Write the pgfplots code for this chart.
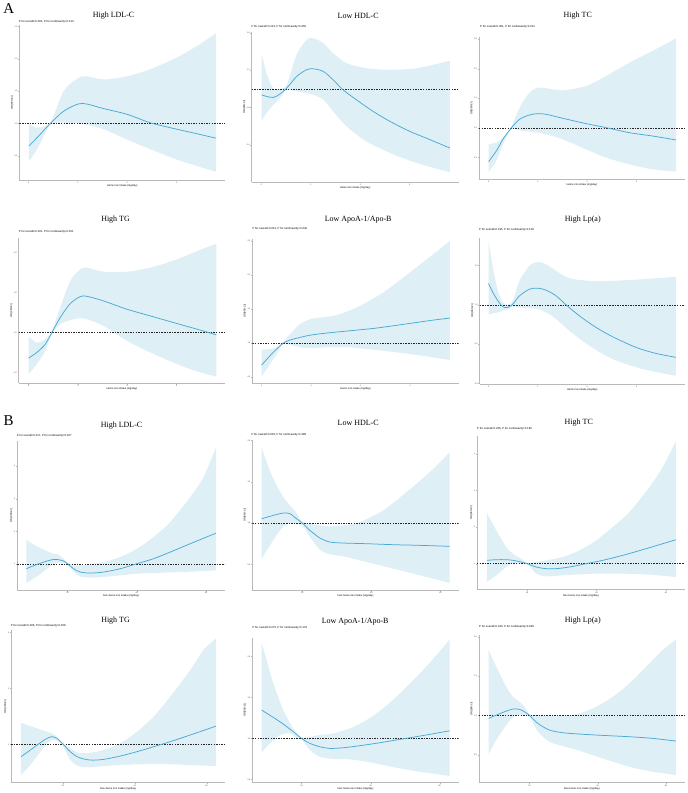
\documentclass[border=0pt]{standalone}
\usepackage{fontspec}
\setmainfont{Liberation Serif}
\setsansfont{Liberation Sans}
\usepackage{pgfplots}
\pgfplotsset{compat=1.18}
\usepgfplotslibrary{fillbetween}
\definecolor{bandc}{RGB}{223,239,246}
\definecolor{linec}{RGB}{72,170,212}
\definecolor{axgray}{RGB}{185,185,185}
\newcommand\ptfont{\sffamily\fontsize{2.8}{3.2}\selectfont}
\newcommand\ttlfont{\rmfamily\fontsize{8}{9}\selectfont}
\pgfplotsset{
 panel/.style={
  scale only axis, anchor=south west,
  axis x line*=bottom, axis y line*=left,
  axis line style={draw=axgray, line width=0.5pt},
  every tick/.style={draw=axgray, line width=0.3pt},
  tick align=outside, major tick length=1.2pt,
  tick label style={font=\sffamily\fontsize{2}{2.4}\selectfont, text=black!75, inner sep=0.6pt},
  /pgf/number format/assume math mode=true,
  xlabel style={font=\sffamily\fontsize{2.6}{3}\selectfont, inner sep=0.5pt},
  ylabel style={font=\sffamily\fontsize{2.6}{3}\selectfont, inner sep=0.5pt},
  ylabel={OR(95\%CI)},
 },
 panA/.style={panel, xtick={0,1,2,3}, xlabel={Heme iron intake (mg/day)}},
 panB/.style={panel, xtick={20,40,60}, xlabel={Non-heme iron intake (mg/day)}},
 cband/.style={draw=none, smooth},
 cline/.style={linec, line width=0.75pt, smooth},
 refline/.style={black!85, line width=0.45pt, dash pattern=on 1.5pt off 1.1pt},
}
\begin{document}
\begin{tikzpicture}
\node[font=\rmfamily\fontsize{15}{15}\selectfont] at (5pt,786pt) {A};
\node[font=\rmfamily\fontsize{15}{15}\selectfont] at (5pt,373pt) {B};

% ---------------- A1 High LDL-C
\begin{axis}[panA, at={(15.7pt,614pt)}, width=206pt, height=155pt,
 xmin=-0.19, xmax=3.99, ymin=0.124, ymax=2.52,
 ytick={0.5,1,1.5,2,2.5}, yticklabels={0.5,1.0,1.5,2.0,2.5}]
\addplot[cband, name path=UA1] coordinates {(0,1.0) (0.17,0.93) (0.44,1.02) (0.71,1.50) (1.0,1.70) (1.18,1.73) (1.52,1.68) (2.0,1.73) (2.47,1.84) (3.01,2.02) (3.42,2.20) (3.81,2.40)};
\addplot[cband, name path=LA1] coordinates {(0,0.41) (0.17,0.60) (0.44,0.98) (0.71,1.01) (1.0,1.0) (1.18,0.98) (1.52,0.91) (2.0,0.75) (2.47,0.60) (3.01,0.44) (3.42,0.34) (3.81,0.25)};
\addplot[bandc, draw=none] fill between[of=UA1 and LA1];
\addplot[refline] coordinates {(-0.19,1) (3.99,1)};
\addplot[cline] coordinates {(0,0.65) (0.17,0.78) (0.44,1.0) (0.71,1.19) (1.0,1.30) (1.18,1.30) (1.52,1.23) (2.0,1.14) (2.47,1.01) (3.01,0.91) (3.42,0.84) (3.81,0.77)};
\end{axis}

% ---------------- A2 Low HDL-C
\begin{axis}[panA, at={(248.3pt,612pt)}, width=207.4pt, height=150.3pt,
 xmin=-0.2, xmax=3.99, ymin=0, ymax=1.61,
 ytick={0.4,0.8,1.2,1.6}, yticklabels={0.4,0.8,1.2,1.6}]
\addplot[cband, name path=UA2] coordinates {(0,1.382) (0.10,1.168) (0.24,1.0) (0.37,1.0) (0.51,1.043) (0.71,1.364) (0.91,1.525) (1.05,1.543) (1.25,1.489) (1.45,1.382) (1.72,1.275) (2.12,1.221) (2.60,1.204) (3.14,1.221) (3.81,1.30)};
\addplot[cband, name path=LA2] coordinates {(0,0.65) (0.10,0.739) (0.24,0.829) (0.37,0.90) (0.51,0.989) (0.71,0.971) (0.91,0.954) (1.05,0.936) (1.25,0.882) (1.45,0.757) (1.72,0.596) (2.12,0.436) (2.60,0.311) (3.14,0.204) (3.81,0.104)};
\addplot[bandc, draw=none] fill between[of=UA2 and LA2];
\addplot[refline] coordinates {(-0.2,1) (3.99,1)};
\addplot[cline] coordinates {(0,0.936) (0.10,0.918) (0.24,0.907) (0.37,0.943) (0.51,1.007) (0.71,1.132) (0.91,1.204) (1.05,1.214) (1.25,1.186) (1.45,1.096) (1.65,0.989) (1.92,0.882) (2.26,0.757) (2.60,0.65) (3.0,0.543) (3.41,0.454) (3.81,0.364)};
\end{axis}

% ---------------- A3 High TC
\begin{axis}[panA, at={(476pt,614.7pt)}, width=206.3pt, height=142.3pt,
 xmin=-0.196, xmax=3.98, ymin=0.135, ymax=2.53,
 ytick={0.5,1,1.5,2,2.5}, yticklabels={0.5,1.0,1.5,2.0,2.5}]
\addplot[cband, name path=UA3] coordinates {(0,0.725) (0.155,0.753) (0.29,0.837) (0.459,1.02) (0.627,1.343) (0.829,1.596) (1.0,1.680) (1.167,1.669) (1.504,1.635) (1.976,1.708) (2.38,1.876) (2.85,2.10) (3.32,2.298) (3.80,2.511)};
\addplot[cband, name path=LA3] coordinates {(0,0.264) (0.155,0.444) (0.29,0.725) (0.459,0.983) (0.627,0.961) (0.829,0.938) (1.0,0.921) (1.167,0.893) (1.504,0.809) (1.976,0.640) (2.38,0.500) (2.85,0.388) (3.32,0.303) (3.80,0.264)};
\addplot[bandc, draw=none] fill between[of=UA3 and LA3];
\addplot[refline] coordinates {(-0.196,1) (3.98,1)};
\addplot[cline] coordinates {(0,0.433) (0.155,0.612) (0.29,0.809) (0.459,1.0) (0.627,1.146) (0.829,1.219) (1.0,1.242) (1.167,1.230) (1.504,1.163) (1.976,1.073) (2.38,1.006) (2.85,0.921) (3.32,0.865) (3.80,0.798)};
\end{axis}

% ---------------- A4 High TG
\begin{axis}[panA, at={(15pt,410.3pt)}, width=206.7pt, height=146pt,
 xmin=-0.2, xmax=3.99, ymin=0.3625, ymax=2.19,
 ytick={0.5,1,1.5,2}, yticklabels={0.5,1.0,1.5,2.0}]
\addplot[cband, name path=UA4] coordinates {(0,0.946) (0.169,0.875) (0.339,0.917) (0.474,1.021) (0.643,1.3125) (0.846,1.646) (1.049,1.792) (1.185,1.8125) (1.523,1.7625) (1.997,1.7625) (2.471,1.8125) (3.013,1.917) (3.419,2.021) (3.812,2.1125)};
\addplot[cband, name path=LA4] coordinates {(0,0.479) (0.169,0.604) (0.339,0.771) (0.474,0.9875) (0.643,1.104) (0.846,1.154) (1.049,1.179) (1.185,1.167) (1.523,1.083) (1.997,0.896) (2.471,0.75) (3.013,0.604) (3.419,0.5125) (3.812,0.446)};
\addplot[bandc, draw=none] fill between[of=UA4 and LA4];
\addplot[refline] coordinates {(-0.2,1) (3.99,1)};
\addplot[cline] coordinates {(0,0.679) (0.169,0.75) (0.339,0.854) (0.474,1.0) (0.643,1.1875) (0.846,1.3625) (1.049,1.45) (1.185,1.454) (1.523,1.396) (1.997,1.292) (2.471,1.208) (3.013,1.1125) (3.419,1.042) (3.812,0.971)};
\end{axis}

% ---------------- A5 Low ApoA-1/Apo-B
\begin{axis}[panA, at={(249pt,410.7pt)}, width=206.7pt, height=144pt,
 xmin=-0.19, xmax=3.99, ymin=0.412, ymax=2.53,
 ytick={0.5,1,1.5,2,2.5}, yticklabels={0.5,1.0,1.5,2.0,2.5}]
\addplot[cband, name path=UA5] coordinates {(0,0.902) (0.169,0.912) (0.303,0.936) (0.438,1.01) (0.573,1.132) (0.775,1.279) (0.998,1.353) (1.315,1.387) (1.585,1.426) (1.99,1.549) (2.46,1.745) (3.0,2.039) (3.473,2.309) (3.81,2.505)};
\addplot[cband, name path=LA5] coordinates {(0,0.51) (0.169,0.691) (0.303,0.838) (0.438,0.985) (0.573,0.975) (0.775,0.936) (0.998,0.926) (1.315,0.936) (1.787,0.936) (2.326,0.897) (3.0,0.838) (3.473,0.789) (3.81,0.75)};
\addplot[bandc, draw=none] fill between[of=UA5 and LA5];
\addplot[refline] coordinates {(-0.19,1) (3.99,1)};
\addplot[cline] coordinates {(0,0.676) (0.169,0.814) (0.303,0.912) (0.438,1.0) (0.573,1.044) (0.775,1.083) (0.998,1.118) (1.315,1.147) (1.787,1.181) (2.326,1.221) (3.0,1.289) (3.473,1.338) (3.81,1.368)};
\end{axis}

% ---------------- A6 High Lp(a)
\begin{axis}[panA, at={(476.7pt,409.7pt)}, width=205.6pt, height=146.6pt,
 xmin=-0.18, xmax=3.98, ymin=-0.008, ymax=1.856,
 ytick={0,0.5,1,1.5}, yticklabels={0.0,0.5,1.0,1.5}]
\addplot[cband, name path=UA6] coordinates {(0,1.822) (0.088,1.475) (0.189,1.178) (0.29,1.03) (0.391,1.0) (0.492,1.051) (0.627,1.305) (0.829,1.496) (0.998,1.547) (1.167,1.517) (1.369,1.432) (1.639,1.339) (2.043,1.305) (2.515,1.305) (3.122,1.326) (3.796,1.356)};
\addplot[cband, name path=LA6] coordinates {(0,0.881) (0.189,0.903) (0.29,0.924) (0.391,0.94) (0.492,0.98) (0.627,0.966) (0.829,0.958) (0.998,0.945) (1.167,0.903) (1.369,0.818) (1.639,0.669) (2.043,0.479) (2.515,0.309) (3.122,0.182) (3.796,0.097)};
\addplot[bandc, draw=none] fill between[of=UA6 and LA6];
\addplot[refline] coordinates {(-0.18,1) (3.98,1)};
\addplot[cline] coordinates {(0,1.271) (0.088,1.157) (0.189,1.051) (0.29,0.975) (0.391,0.966) (0.492,1.008) (0.627,1.114) (0.829,1.199) (0.998,1.212) (1.167,1.186) (1.369,1.114) (1.571,1.0) (1.841,0.860) (2.178,0.712) (2.515,0.593) (2.987,0.458) (3.392,0.381) (3.796,0.331)};
\end{axis}

% ---------------- B1 High LDL-C
\begin{axis}[panB, at={(13.3pt,203pt)}, width=208.4pt, height=150pt,
 xmin=5.38, xmax=65.5, ymin=0.194, ymax=4.79,
 ytick={1,2,3,4}, yticklabels={1,2,3,4}]
\addplot[cband, name path=UB1] coordinates {(8.08,1.745) (11.15,1.541) (14.04,1.398) (15.96,1.316) (17.4,1.286) (18.85,1.163) (20,1.031) (21.73,0.959) (23.65,0.959) (26.54,0.99) (30.38,1.061) (35.19,1.214) (40,1.469) (44.81,1.827) (49.62,2.286) (55.38,3.051) (59.23,3.663) (62.88,4.582)};
\addplot[cband, name path=LB1] coordinates {(8.08,0.418) (11.15,0.622) (14.04,0.857) (15.96,1.01) (17.4,1.05) (18.85,1.03) (20,0.99) (21.73,0.755) (23.65,0.622) (26.54,0.582) (30.38,0.602) (35.19,0.653) (40,0.704) (44.81,0.724) (49.62,0.745) (55.38,0.765) (62.88,0.806)};
\addplot[bandc, draw=none] fill between[of=UB1 and LB1];
\addplot[refline] coordinates {(5.38,1) (65.5,1)};
\addplot[cline] coordinates {(8.08,0.857) (11.15,0.99) (14.04,1.092) (15.96,1.143) (17.4,1.133) (18.85,1.092) (20,1.01) (21.73,0.857) (23.65,0.755) (26.54,0.724) (30.38,0.755) (35.19,0.857) (40,1.01) (44.81,1.163) (49.62,1.367) (55.38,1.622) (62.88,1.949)};
\end{axis}

% ---------------- B2 Low HDL-C
\begin{axis}[panB, at={(249pt,203pt)}, width=206.7pt, height=150.7pt,
 xmin=5.54, xmax=65.3, ymin=0.185, ymax=2.008,
 ytick={0.5,1,1.5,2}, yticklabels={0.5,1.0,1.5,2.0}]
\addplot[cband, name path=UB2] coordinates {(8.24,1.919) (9.69,1.738) (11.61,1.536) (14.51,1.315) (16.43,1.214) (18.36,1.121) (20,1.012) (22.22,0.992) (25.11,0.972) (28.0,0.96) (31.86,0.972) (36.67,1.012) (43.42,1.153) (50.17,1.375) (56.92,1.617) (62.7,1.859)};
\addplot[cband, name path=LB2] coordinates {(8.24,0.569) (10.65,0.730) (13.54,0.911) (15.95,1.0) (18.36,0.984) (20,0.972) (22.22,0.831) (25.11,0.677) (28.0,0.621) (31.86,0.597) (38.6,0.528) (46.31,0.448) (54.02,0.367) (62.7,0.274)};
\addplot[bandc, draw=none] fill between[of=UB2 and LB2];
\addplot[refline] coordinates {(5.54,1) (65.3,1)};
\addplot[cline] coordinates {(8.24,1.052) (11.61,1.093) (14.51,1.121) (16.43,1.113) (18.36,1.052) (20,1.0) (22.22,0.911) (25.11,0.819) (28.0,0.770) (31.86,0.758) (38.6,0.75) (46.31,0.738) (54.02,0.730) (62.7,0.718)};
\end{axis}

% ---------------- B3 High TC
\begin{axis}[panB, at={(474pt,203.7pt)}, width=208.3pt, height=154.3pt,
 xmin=5.52, xmax=65.47, ymin=0.291, ymax=4.5,
 ytick={1,2,3,4}, yticklabels={1,2,3,4}]
\addplot[cband, name path=UB3] coordinates {(8.39,2.382) (11.08,1.909) (13.96,1.455) (15.88,1.273) (18.27,1.136) (20,1.018) (22.59,1.045) (25.47,1.091) (30.26,1.182) (35.06,1.364) (39.86,1.636) (44.65,2.0) (49.45,2.409) (55.2,3.091) (59.04,3.636) (62.88,4.345)};
\addplot[cband, name path=LB3] coordinates {(8.39,0.5) (11.08,0.682) (13.96,0.909) (15.88,1.02) (18.27,1.0) (20,0.982) (22.59,0.727) (25.47,0.655) (30.26,0.682) (35.06,0.709) (39.86,0.727) (47.53,0.727) (55.2,0.7) (62.88,0.636)};
\addplot[bandc, draw=none] fill between[of=UB3 and LB3];
\addplot[refline] coordinates {(5.52,1) (65.47,1)};
\addplot[cline] coordinates {(8.39,1.091) (11.08,1.109) (13.96,1.109) (15.88,1.091) (18.27,1.045) (20,1.0) (22.59,0.909) (25.47,0.864) (28.35,0.864) (32.18,0.909) (36.98,1.0) (41.77,1.091) (47.53,1.227) (54.24,1.409) (62.88,1.655)};
\end{axis}

% ---------------- B4 High TG
\begin{axis}[panB, at={(7.3pt,10.3pt)}, width=214.4pt, height=152.7pt,
 xmin=5.56, xmax=65.1, ymin=0.315, ymax=3.04,
 ytick={1,2,3}, yticklabels={1,2,3}]
\addplot[cband, name path=UB4] coordinates {(8.33,1.387) (10.93,1.327) (13.70,1.268) (15.56,1.226) (16.94,1.196) (18.33,1.137) (20,1.030) (22.04,0.93) (24.35,0.851) (27.59,0.851) (31.30,0.899) (35.93,1.018) (40.56,1.226) (45.19,1.494) (49.81,1.851) (55.37,2.327) (59.07,2.685) (62.59,2.893)};
\addplot[cband, name path=LB4] coordinates {(8.33,0.452) (10.93,0.631) (13.70,0.869) (15.56,1.018) (16.94,1.077) (18.33,1.065) (20,0.970) (22.04,0.720) (24.35,0.613) (27.59,0.589) (31.30,0.613) (35.93,0.631) (40.56,0.643) (47.96,0.649) (55.37,0.631) (62.59,0.613)};
\addplot[bandc, draw=none] fill between[of=UB4 and LB4];
\addplot[refline] coordinates {(5.56,1) (65.1,1)};
\addplot[cline] coordinates {(8.33,0.780) (10.93,0.899) (13.70,1.030) (15.56,1.107) (16.94,1.137) (18.33,1.107) (20,1.006) (22.04,0.869) (24.35,0.768) (27.59,0.720) (31.30,0.732) (35.93,0.792) (40.56,0.869) (45.19,0.958) (49.81,1.048) (55.37,1.167) (62.59,1.327)};
\end{axis}

% ---------------- B5 Low ApoA-1/Apo-B
\begin{axis}[panB, at={(249pt,10.3pt)}, width=206.7pt, height=145.3pt,
 xmin=5.74, xmax=65.5, ymin=0.459, ymax=2.23,
 ytick={0.5,1,1.5,2}, yticklabels={0.5,1.0,1.5,2.0}]
\addplot[cband, name path=UB5] coordinates {(8.43,2.167) (9.88,1.955) (11.81,1.671) (14.70,1.346) (17.59,1.122) (20,1.012) (22.41,1.020) (25.30,1.041) (29.16,1.061) (33.98,1.122) (38.80,1.224) (43.61,1.366) (48.43,1.549) (54.22,1.793) (59.04,2.016) (62.89,2.207)};
\addplot[cband, name path=LB5] coordinates {(8.43,0.829) (10.84,0.939) (13.73,1.041) (16.63,1.061) (18.55,1.0) (20,0.988) (22.41,0.858) (25.30,0.776) (29.16,0.748) (33.98,0.744) (38.80,0.715) (43.61,0.675) (48.43,0.634) (54.22,0.593) (62.89,0.541)};
\addplot[bandc, draw=none] fill between[of=UB5 and LB5];
\addplot[refline] coordinates {(5.74,1) (65.5,1)};
\addplot[cline] coordinates {(8.43,1.346) (11.81,1.256) (14.70,1.175) (17.59,1.081) (20,1.0) (22.41,0.939) (25.30,0.898) (28.19,0.878) (32.05,0.886) (36.87,0.911) (42.65,0.947) (48.43,0.988) (54.22,1.028) (62.89,1.093)};
\end{axis}

% ---------------- B6 High Lp(a)
\begin{axis}[panB, at={(476pt,10.3pt)}, width=206.3pt, height=147.7pt,
 xmin=5.17, xmax=65.56, ymin=0.144, ymax=2.02,
 ytick={0.5,1,1.5,2}, yticklabels={0.5,1.0,1.5,2.0}]
\addplot[cband, name path=UB6] coordinates {(8.0,1.831) (10.24,1.619) (13.17,1.364) (15.12,1.237) (17.07,1.174) (18.54,1.110) (20,1.013) (22.44,1.004) (25.85,0.992) (29.76,0.992) (34.63,1.025) (39.51,1.110) (44.39,1.237) (49.27,1.407) (55.12,1.661) (59.02,1.831) (62.93,1.966)};
\addplot[cband, name path=LB6] coordinates {(8.0,0.508) (10.24,0.686) (13.17,0.877) (15.12,0.975) (16.59,1.004) (18.05,0.992) (20,0.983) (22.44,0.792) (25.85,0.665) (29.76,0.610) (34.63,0.551) (41.46,0.453) (49.27,0.347) (56.1,0.284) (62.93,0.242)};
\addplot[bandc, draw=none] fill between[of=UB6 and LB6];
\addplot[refline] coordinates {(5.17,1) (65.56,1)};
\addplot[cline] coordinates {(8.0,0.962) (10.24,1.004) (13.17,1.055) (15.12,1.081) (16.59,1.081) (18.05,1.059) (20,1.0) (22.44,0.898) (25.85,0.814) (29.76,0.780) (34.63,0.763) (41.46,0.746) (49.27,0.729) (56.1,0.708) (62.93,0.674)};
\end{axis}

% ---------------- titles
\node[font=\ttlfont] at (110pt,779pt) {High LDL-C};
\node[font=\ttlfont] at (355pt,778pt) {Low HDL-C};
\node[font=\ttlfont] at (575pt,779pt) {High TC};
\node[font=\ttlfont] at (112pt,574pt) {High TG};
\node[font=\ttlfont] at (355pt,574pt) {Low ApoA-1/Apo-B};
\node[font=\ttlfont] at (580pt,574pt) {High Lp(a)};
\node[font=\ttlfont] at (118pt,368pt) {High LDL-C};
\node[font=\ttlfont] at (355pt,371pt) {Low HDL-C};
\node[font=\ttlfont] at (576pt,371pt) {High TC};
\node[font=\ttlfont] at (112pt,173pt) {High TG};
\node[font=\ttlfont] at (352pt,172pt) {Low ApoA-1/Apo-B};
\node[font=\ttlfont] at (580pt,173pt) {High Lp(a)};

% ---------------- P values
\node[font=\ptfont, anchor=west, inner sep=0pt] at (15pt,772pt) {P for overall=0.002, P for nonlinearity=0.013};
\node[font=\ptfont, anchor=west, inner sep=0pt] at (248pt,767pt) {P for overall=0.102, P for nonlinearity=0.050};
\node[font=\ptfont, anchor=west, inner sep=0pt] at (477pt,767pt) {P for overall<0.001, P for nonlinearity<0.001};
\node[font=\ptfont, anchor=west, inner sep=0pt] at (15pt,562pt) {P for overall<0.001, P for nonlinearity<0.001};
\node[font=\ptfont, anchor=west, inner sep=0pt] at (249pt,565pt) {P for overall<0.001, P for nonlinearity=0.040};
\node[font=\ptfont, anchor=west, inner sep=0pt] at (476pt,564pt) {P for overall=0.195, P for nonlinearity=0.109};
\node[font=\ptfont, anchor=west, inner sep=0pt] at (13pt,358pt) {P for overall=0.017, P for nonlinearity=0.007};
\node[font=\ptfont, anchor=west, inner sep=0pt] at (248pt,359pt) {P for overall=0.005, P for nonlinearity=0.389};
\node[font=\ptfont, anchor=west, inner sep=0pt] at (474pt,365pt) {P for overall=0.226, P for nonlinearity=0.180};
\node[font=\ptfont, anchor=west, inner sep=0pt] at (7pt,167pt) {P for overall=0.006, P for nonlinearity=0.008};
\node[font=\ptfont, anchor=west, inner sep=0pt] at (249pt,165pt) {P for overall=0.075, P for nonlinearity=0.131};
\node[font=\ptfont, anchor=west, inner sep=0pt] at (476pt,166pt) {P for overall=0.180, P for nonlinearity=0.948};

\path (0pt,0pt) rectangle (685pt,793pt);
\end{tikzpicture}
\end{document}
